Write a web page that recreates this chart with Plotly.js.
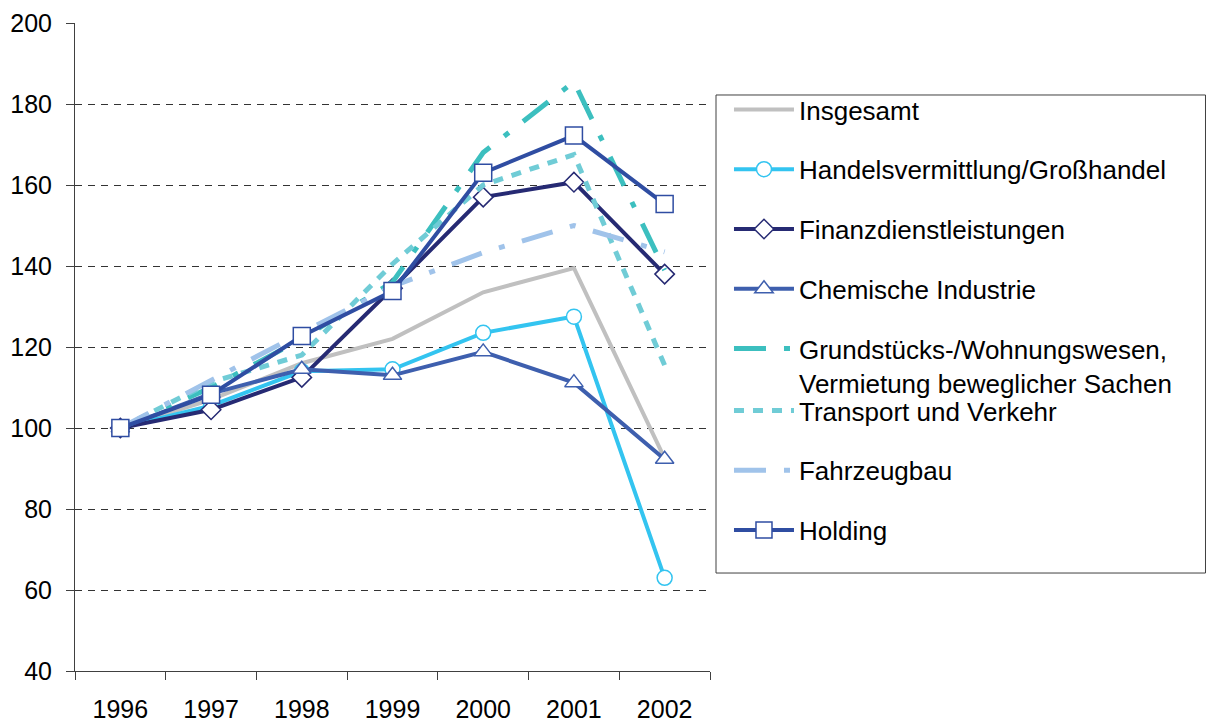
<!DOCTYPE html>
<html>
<head>
<meta charset="utf-8">
<script src="https://cdn.plot.ly/plotly-3.0.1.min.js"></script>
<style>html,body{margin:0;padding:0;background:#fff;}#chart{width:1206px;height:722px;}</style>
</head>
<body>
<div id="chart"></div>
<script>
var years = ['1996','1997','1998','1999','2000','2001','2002'];
var insgesamt = [100, 107, 116, 122, 133.5, 139.5, 92.5];
var handels = [100, 105.5, 114, 114.5, 123.5, 127.5, 63];
var finanz = [100, 104.5, 112.5, 134.5, 157, 160.7, 138];
var chemie = [100, 108.5, 114.5, 113, 118.8, 111.2, 92.3];
var grund = [100, 110, 122, 136, 168, 185.5, 139];
var transport = [100, 111.3, 118, 140.5, 160, 167.5, 115.5];
var fahrzeug = [100, 111.8, 123.5, 135, 143.3, 150, 143.5];
var holding = [100, 108.2, 122.7, 133.8, 163, 172.2, 155.3];

var names = ['Insgesamt', 'Handelsvermittlung/Großhandel', 'Finanzdienstleistungen', 'Chemische Industrie',
  'Grundstücks-/Wohnungswesen,<br>Vermietung beweglicher Sachen', 'Transport und Verkehr', 'Fahrzeugbau', 'Holding'];

var longDashDot = '32px,18px,6px,18px';
var traces = [
  {y: insgesamt, name: names[0], legend: 'legend', legendgroup: 'g1', mode: 'lines', line: {color: '#c0c0c0', width: 4}},
  {y: handels, name: names[1], legend: 'legend', legendgroup: 'g2', mode: 'lines+markers', line: {color: '#33c4f0', width: 4},
    marker: {symbol: 'circle', size: 15, color: '#ffffff', line: {color: '#33c4f0', width: 1.5}}},
  {y: finanz, name: names[2], legend: 'legend', legendgroup: 'g3', mode: 'lines+markers', line: {color: '#262a73', width: 4},
    marker: {symbol: 'diamond', size: 15, color: '#ffffff', line: {color: '#262a73', width: 1.5}}},
  {y: chemie, name: names[3], legend: 'legend', legendgroup: 'g4', mode: 'lines+markers', line: {color: '#3e5fae', width: 4},
    marker: {symbol: 'triangle-up', size: 16, color: '#ffffff', line: {color: '#3e5fae', width: 1.5}}},
  {y: grund, name: names[4], legend: 'legend', legendgroup: 'g5', mode: 'lines', line: {color: '#3cbfbf', width: 5, dash: longDashDot}},
  {y: transport, name: names[5], legend: 'legend2', legendgroup: 'g6', mode: 'lines', line: {color: '#70ccd6', width: 5, dash: '10px,9px'}},
  {y: fahrzeug, name: names[6], legend: 'legend2', legendgroup: 'g7', mode: 'lines', line: {color: '#a0c3ea', width: 5, dash: longDashDot}},
  {y: holding, name: names[7], legend: 'legend2', legendgroup: 'g8', mode: 'lines+markers', line: {color: '#2f4da2', width: 4},
    marker: {symbol: 'square', size: 17, color: '#ffffff', line: {color: '#2f4da2', width: 1.5}}}
];
traces.forEach(function (t) { t.x = years; t.type = 'scatter'; t.hoverinfo = 'x+y+name'; });

var legendBase = {
  xanchor: 'left', yanchor: 'top', x: 1.0299,
  borderwidth: 0, bgcolor: 'rgba(0,0,0,0)',
  font: {size: 26, color: '#000000'},
  tracegroupgap: 23, itemwidth: 60, traceorder: 'grouped', valign: 'top'
};

var layout = {
  width: 1206, height: 722,
  margin: {l: 75, r: 496, t: 23, b: 51, pad: 0},
  paper_bgcolor: '#ffffff', plot_bgcolor: '#ffffff',
  font: {family: 'Liberation Sans, Arial, sans-serif', size: 25, color: '#000000'},
  showlegend: true,
  legend: Object.assign({}, legendBase, {y: 0.9028}),
  legend2: Object.assign({}, legendBase, {y: 0.4383}),
  shapes: [{
    type: 'rect', xref: 'paper', yref: 'paper',
    x0: 1.00945, x1: 1.7803, y0: 0.1512, y1: 0.8889,
    line: {color: '#404040', width: 1}, fillcolor: 'rgba(0,0,0,0)', layer: 'below'
  }],
  xaxis: {
    type: 'category', range: [-0.5, 6.5], tickson: 'boundaries',
    ticks: 'outside', ticklen: 8, tickcolor: '#404040', tickwidth: 1,
    showline: true, linecolor: '#404040', linewidth: 1,
    showgrid: false, zeroline: false, fixedrange: true,
    ticklabelstandoff: 16,
    tickfont: {size: 25, color: '#000000'}
  },
  yaxis: {
    range: [40, 200], tickvals: [40, 60, 80, 100, 120, 140, 160, 180, 200],
    ticks: 'outside', ticklen: 8, tickcolor: '#404040', tickwidth: 1,
    showline: true, linecolor: '#404040', linewidth: 1,
    showgrid: true, gridcolor: '#333333', gridwidth: 1, griddash: '7px,6px',
    zeroline: false, fixedrange: true, ticklabelstandoff: 9,
    tickfont: {size: 25, color: '#000000'}
  }
};

Plotly.newPlot('chart', traces, layout, {displayModeBar: false, staticPlot: true});
</script>
</body>
</html>
